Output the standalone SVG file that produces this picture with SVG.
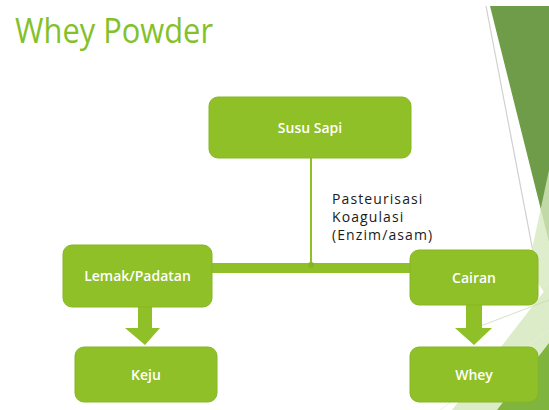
<svg xmlns="http://www.w3.org/2000/svg" width="549" height="410" viewBox="0 0 549 410">
<style>
.box{fill:#8fc027;stroke:#86b624;stroke-width:1}
.bt{font-family:"Open Sans","DejaVu Sans",sans-serif;font-size:14px;font-weight:600;fill:#ffffff;text-anchor:middle}
.lbl{font-family:"Open Sans","DejaVu Sans",sans-serif;font-size:14px;fill:#1a1a1a;letter-spacing:1.1px}
.arr{fill:#8fc027}
</style>
<rect width="549" height="410" fill="#ffffff"/>
<g id="background">
<polygon points="490,6 549,6 549,242" fill="#6e9c48"/>
<line x1="486" y1="6" x2="535" y2="262" stroke="#d0d0d0" stroke-width="1.2"/>
<polygon points="549,170 549,300 528,268" fill="#d6e8bf" opacity="0.8"/>
<polygon points="549,285 549,410 452,410" fill="#dcebc8"/>
<polygon points="549,343 549,410 497,410" fill="#7fb43e"/>
<line x1="470" y1="330" x2="549" y2="300" stroke="#c8dcb0" stroke-width="0.8"/>
<line x1="440" y1="410" x2="549" y2="330" stroke="#e6efda" stroke-width="0.8"/>
</g>
<text id="title" x="15" y="43" font-family="'Open Sans','DejaVu Sans',sans-serif" font-size="35" fill="#83c12a" textLength="198" lengthAdjust="spacingAndGlyphs">Whey Powder</text>
<g id="connectors">
<line x1="311" y1="158" x2="311" y2="266" stroke="#8fc027" stroke-width="2"/>
<rect x="211" y="263" width="201" height="10" fill="#8fc027"/>
<circle cx="311" cy="265" r="3" fill="#84b524"/>
<polygon class="arr" points="138,307 152,307 152,328 160,328 145,345 125,328 138,328"/>
<polygon class="arr" points="466,305 482,305 482,328 492,328 474,345 455,328 466,328"/>
</g>
<text id="process-label" class="lbl"><tspan x="332" y="204">Pasteurisasi</tspan><tspan x="332" y="222">Koagulasi</tspan><tspan x="332" y="240">(Enzim/asam)</tspan></text>
<g id="susu-sapi"><rect class="box" x="209" y="97" width="202" height="61" rx="9"/><text class="bt" x="310" y="133">Susu Sapi</text></g>
<g id="lemak-padatan"><rect class="box" x="63" y="245" width="149" height="62" rx="9"/><text class="bt" x="137.5" y="281">Lemak/Padatan</text></g>
<g id="cairan"><rect class="box" x="410" y="250" width="128" height="55" rx="9"/><text class="bt" x="474" y="283">Cairan</text></g>
<g id="keju"><rect class="box" x="75" y="347" width="142" height="55" rx="9"/><text class="bt" x="146" y="380">Keju</text></g>
<g id="whey"><rect class="box" x="410" y="347" width="128" height="55" rx="9"/><text class="bt" x="474" y="380">Whey</text></g>
</svg>
